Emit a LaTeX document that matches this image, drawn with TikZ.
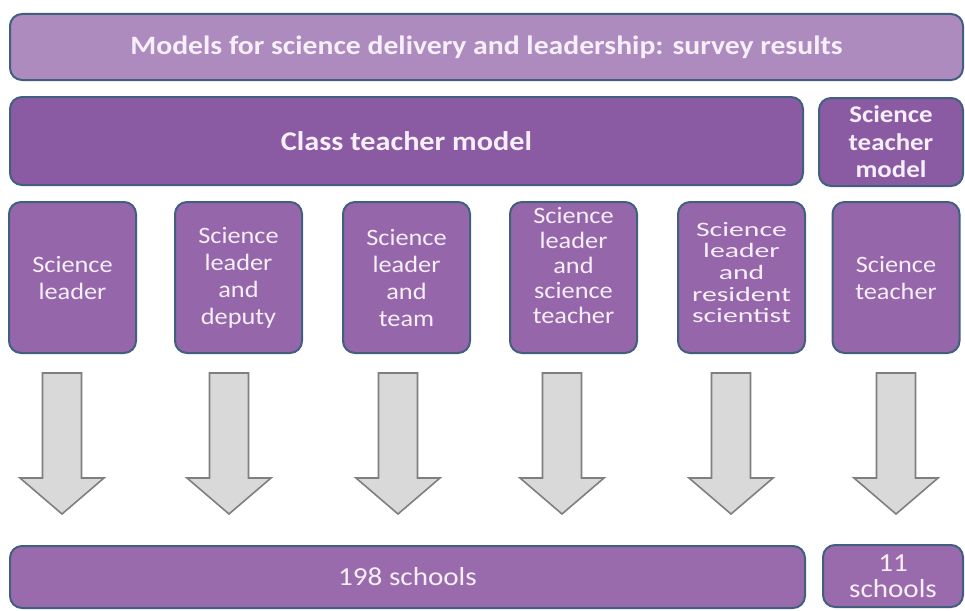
\documentclass[tikz,border=0pt]{standalone}
\usepackage{fontspec}
\setmainfont{Carlito}[FakeStretch=1.12]
\newfontfamily\widefont{Carlito}[FakeStretch=1.45]
\definecolor{titlefill}{HTML}{AD8BBF}
\definecolor{headfill}{HTML}{8A5BA3}
\definecolor{boxfill}{HTML}{9566A9}
\definecolor{botfill}{HTML}{9A6BAC}
\definecolor{edge}{HTML}{41607F}
\definecolor{txt}{HTML}{F6EEF8}
\definecolor{arrfill}{HTML}{D9D9D9}
\definecolor{arredge}{HTML}{7F7F7F}
\begin{document}
\begin{tikzpicture}[x=1pt,y=-1pt,
  pbox/.style={draw=edge,line width=2pt,rounded corners=12pt,text=txt,align=center,inner sep=0pt},
  smallbox/.style={pbox,fill=boxfill,minimum width=127pt,minimum height=151pt},
  smalltxt/.style={font=\fontsize{23.5}{27}\selectfont},
  boxtext/.style={text=txt,align=center,inner sep=0pt},
  arr/.style={fill=arrfill,draw=arredge,line width=1.6pt,line join=miter}]
\useasboundingbox (0,0) rectangle (965,610);
\fill[white] (0,0) rectangle (965,610);
\node[pbox,fill=titlefill,minimum width=953pt,minimum height=66pt,font=\fontsize{26.5}{29}\selectfont\bfseries] (title) at (486.5,47) {Models for science delivery and leadership: survey results};
\node[pbox,fill=headfill,minimum width=793pt,minimum height=88pt,font=\fontsize{27}{30}\selectfont\bfseries] (ctm) at (406.5,141) {Class teacher model};
\node[pbox,fill=headfill,minimum width=144pt,minimum height=88pt,font=\fontsize{24}{27.5}\selectfont\bfseries] (stm) at (891,142) {Science\\teacher\\model};
\node[smallbox,smalltxt] (b1) at (72.5,277.5) {Science\\leader};
\node[smallbox,smalltxt] (b2) at (238.5,277.5) {Science\\leader\\and\\deputy};
\node[smallbox,smalltxt] (b3) at (406.5,277.5) {Science\\leader\\and\\team};
\node[smallbox] (b4) at (573.5,277.5) {};
\node[boxtext,font=\fontsize{23.5}{25}\selectfont] (t4) at ([yshift=12pt]b4.center) {Science\\leader\\and\\science\\teacher};
\node[smallbox] (b5) at (741.5,277.5) {};
\node[boxtext,font=\widefont\fontsize{20.5}{21.7}\selectfont] (t5) at ([yshift=5pt]b5.center) {Science\\leader\\and\\resident\\scientist};
\node[smallbox,smalltxt] (b6) at (896,277.5) {Science\\teacher};
\node[pbox,fill=botfill,minimum width=795pt,minimum height=62pt,font=\fontsize{26}{28}\selectfont] (s198) at (407.5,577) {198 schools};
\node[pbox,fill=botfill,minimum width=140pt,minimum height=62pt,font=\fontsize{26}{26}\selectfont] (s11) at (893,576) {11\\schools};
\foreach \cx in {62,229,398,562,731,896}{
  \draw[arr] (\cx-19.5,373) -- (\cx+19.5,373) -- (\cx+19.5,478) -- (\cx+42,478) -- (\cx,514) -- (\cx-42,478) -- (\cx-19.5,478) -- cycle;
}
\end{tikzpicture}
\end{document}
